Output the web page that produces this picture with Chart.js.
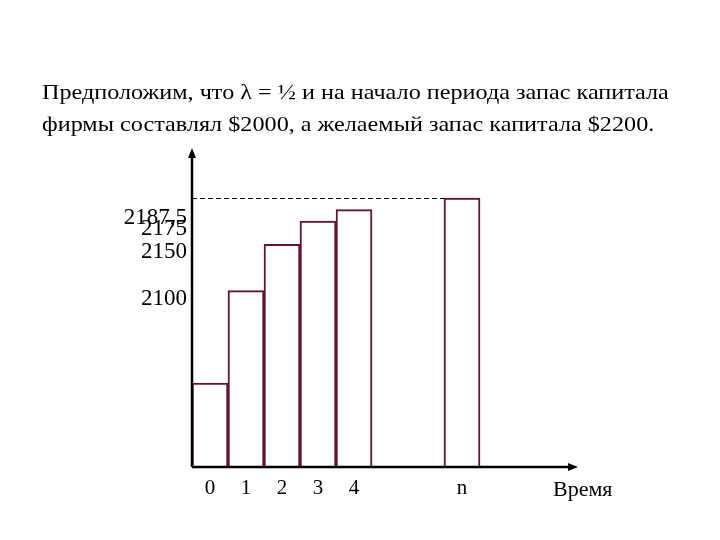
<!DOCTYPE html>
<html>
<head>
<meta charset="utf-8">
<script src="https://cdn.jsdelivr.net/npm/chart.js@4/dist/chart.umd.min.js"></script>
<style>
    body { margin: 0; background: #fff; }
    #wrap { position: relative; width: 720px; height: 540px; }
    #title {
        position: absolute;
        left: 42px;
        top: 76px;
        font-family: "Liberation Serif", "Times New Roman", serif;
        font-size: 22px;
        line-height: 32px;
        color: #000;
        white-space: nowrap;
        transform: scaleX(1.1);
        transform-origin: left top;
    }
    canvas { position: absolute; left: 0; top: 0; }
</style>
</head>
<body>
<div id="wrap">
    <canvas id="barChart" width="720" height="540"></canvas>
    <div id="title">Предположим, что λ = ½ и на начало периода запас капитала<br>фирмы составлял $2000, а желаемый запас капитала $2200.</div>
</div>
<script>
const periods = ["0", "1", "2", "3", "4", "", "", "n", "", "", ""];
const capital = [2000, 2100, 2150, 2175, 2187.5, null, null, 2200, null, null, null];
const yTicks = [2100, 2150, 2175, 2187.5];
const target = 2200;
const xTitle = "Время";

const serif = "'Liberation Serif', 'Times New Roman', serif";
const barColor = "#621234";

const axesPlugin = {
    id: "axes",
    afterDatasetsDraw(chart) {
        const ctx = chart.ctx;
        const area = chart.chartArea;
        const y = chart.scales.y;
        const last = chart.getDatasetMeta(0).data[7];

        // dashed line to the desired capital
        const ty = Math.round(y.getPixelForValue(target)) + 0.5;
        ctx.save();
        ctx.strokeStyle = "#000";
        ctx.lineWidth = 1;
        ctx.setLineDash([5, 3]);
        ctx.beginPath();
        ctx.moveTo(area.left, ty);
        ctx.lineTo(last.x - last.width / 2, ty);
        ctx.stroke();
        ctx.setLineDash([]);

        // axes with arrows
        const x0 = area.left;
        const y0 = area.bottom;
        const xEnd = 578;
        const yEnd = area.top;
        ctx.lineWidth = 2.5;
        ctx.beginPath();
        ctx.moveTo(x0, y0);
        ctx.lineTo(x0, yEnd + 6);
        ctx.moveTo(x0, y0);
        ctx.lineTo(xEnd - 6, y0);
        ctx.stroke();
        ctx.fillStyle = "#000";
        ctx.beginPath();
        ctx.moveTo(x0, yEnd);
        ctx.lineTo(x0 - 4, yEnd + 10);
        ctx.lineTo(x0 + 4, yEnd + 10);
        ctx.closePath();
        ctx.fill();
        ctx.beginPath();
        ctx.moveTo(xEnd, y0);
        ctx.lineTo(xEnd - 10, y0 - 4);
        ctx.lineTo(xEnd - 10, y0 + 4);
        ctx.closePath();
        ctx.fill();

        ctx.font = "22px " + serif;
        ctx.textAlign = "left";
        ctx.textBaseline = "alphabetic";
        ctx.fillText(xTitle, 553, 496);
        ctx.restore();
    }
};

new Chart(
    document.getElementById("barChart"),
    {
        type: "bar",

        data: {
            labels: periods,

            datasets: [{
                data: capital,
                backgroundColor: "#ffffff",
                borderColor: barColor,
                borderWidth: 2,
                borderSkipped: "bottom",
                barPercentage: 1,
                categoryPercentage: 1
            }]
        },

        options: {
            responsive: false,
            animation: false,
            layout: {
                padding: { top: 148, right: 132, left: 0, bottom: 0 }
            },
            plugins: {
                legend: { display: false },
                tooltip: { enabled: false }
            },
            scales: {
                x: {
                    grid: { display: false, drawTicks: false },
                    border: { display: false },
                    ticks: {
                        color: "#000",
                        font: { family: serif, size: 21 },
                        padding: 9,
                        autoSkip: false,
                        maxRotation: 0
                    },
                    afterFit(scale) {
                        scale.height = 73;
                    }
                },
                y: {
                    min: 1909.5,
                    max: 2254,
                    grid: { display: false, drawTicks: false },
                    border: { display: false },
                    ticks: {
                        color: "#000",
                        font: { family: serif, size: 23 },
                        padding: 5,
                        labelOffset: 8,
                        autoSkip: false,
                        callback: (v) => String(v).replace(".", ",")
                    },
                    afterBuildTicks(scale) {
                        scale.ticks = yTicks.map((v) => ({ value: v }));
                    },
                    afterFit(scale) {
                        scale.width = 192;
                    }
                }
            }
        },

        plugins: [axesPlugin]
    }
);
</script>
</body>
</html>
